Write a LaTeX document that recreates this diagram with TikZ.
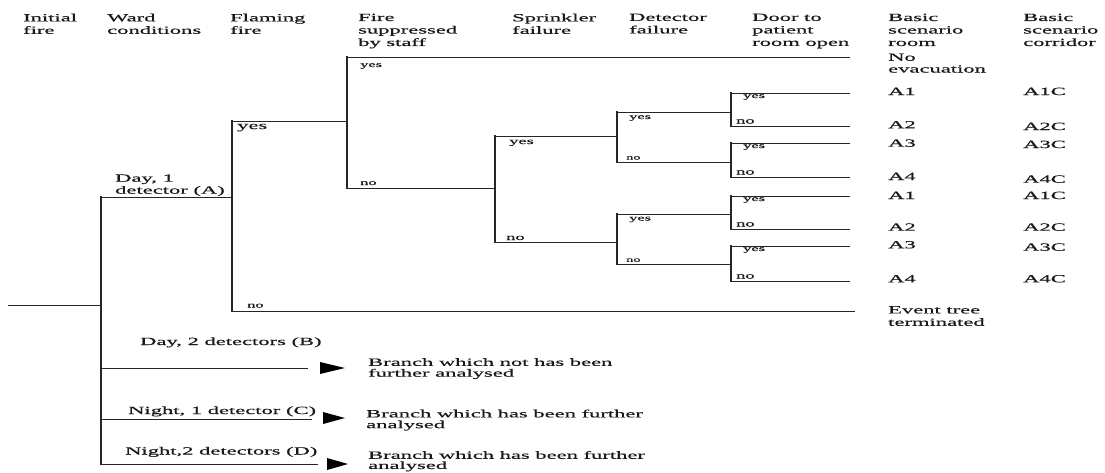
\documentclass[tikz,border=0pt]{standalone}
\usepackage{fontspec}
\setmainfont{Liberation Serif}[FakeStretch=2.05,FakeBold=0.6]
\begin{document}
\begin{tikzpicture}[x=1pt,y=-1pt,
  hline/.style={line width=0.9pt, draw=black!85},
  vline/.style={line width=1.8pt, draw=black!85, line cap=rect},
  txt/.style={inner sep=0pt, anchor=base west, text=black!90,
    font=\fontsize{11}{12.5}\selectfont},
  block/.style={inner sep=0pt, anchor=north west, align=left, text=black!90,
    font=\fontsize{11}{#1}\selectfont},
  block/.default=12.5,
  lbl/.style={inner sep=0pt, anchor=base west, text=black!90,
    font=\fontsize{#1}{#1}\selectfont},
  lbl/.default=8,
  tip/.style={fill=black}
]
\useasboundingbox (0,0) rectangle (1105,472);

% ---------- column headings ----------
\node[block] (hInit) at (23,13.5)   {Initial\\fire};
\node[block] (hWard) at (107,13.5)  {Ward\\conditions};
\node[block] (hFlam) at (230,13.5)  {Flaming\\fire};
\node[block] (hSupp) at (358,13.5)  {Fire\\suppressed\\by staff};
\node[block] (hSpr)  at (512,13.5)  {Sprinkler\\failure};
\node[block] (hDet)  at (629,13.5)  {Detector\\failure};
\node[block] (hDoor) at (752,13.5)  {Door to\\patient\\room open};
\node[block] (hRoom) at (888,13.5)  {Basic\\scenario\\room};
\node[block] (hCorr) at (1023,13.5) {Basic\\scenario\\corridor};

% ---------- initial fire and ward conditions ----------
\coordinate (root) at (8,305);
\coordinate (w)    at (101,305);
\coordinate (wA)   at (101,197);
\coordinate (wD)   at (101,464);
\coordinate (wB)   at (101,368);
\coordinate (wC)   at (101,419);
\draw[hline] (root) -- (w);
\draw[vline] (wA) -- (wD);

\node[block=12] (lA) at (115,174.2) {Day, 1\\detector (A)};

% ---------- flaming fire ----------
\coordinate (f)  at (232,197);
\coordinate (fy) at (232,121);
\coordinate (fn) at (232,311);
\coordinate (fnEnd) at (855,311);
\draw[hline] (wA) -- (f);
\draw[vline] (fy) -- (fn);
\draw[hline] (fn) -- (fnEnd);
\node[lbl=11] (lfy) at (237,129) {yes};
\node[lbl] (lfn) at (247,307.5) {no};

% ---------- fire suppressed by staff ----------
\coordinate (s)  at (347,121);
\coordinate (sy) at (347,57);
\coordinate (sn) at (347,188);
\coordinate (syEnd) at (850,57);
\draw[hline] (fy) -- (s);
\draw[vline] (sy) -- (sn);
\draw[hline] (sy) -- (syEnd);
\node[lbl] (lsy) at (360,67) {yes};
\node[lbl] (lsn) at (360,185) {no};

% ---------- sprinkler failure ----------
\coordinate (p)  at (495,188);
\coordinate (py) at (495,136);
\coordinate (pn) at (495,242);
\draw[hline] (sn) -- (p);
\draw[vline] (py) -- (pn);
\node[lbl=9] (lpy) at (509,144) {yes};
\node[lbl=9] (lpn) at (506,240) {no};

% ---------- detector failure ----------
\coordinate (d1)  at (617,136);
\coordinate (d1y) at (617,112);
\coordinate (d1n) at (617,162);
\coordinate (d2)  at (617,242);
\coordinate (d2y) at (617,214);
\coordinate (d2n) at (617,264);
\draw[hline] (py) -- (d1);
\draw[hline] (pn) -- (d2);
\draw[vline] (d1y) -- (d1n);
\draw[vline] (d2y) -- (d2n);
\node[lbl] (ld1y) at (629,119) {yes};
\node[lbl=7] (ld1n) at (626,159.5) {no};
\node[lbl] (ld2y) at (629,220.5) {yes};
\node[lbl=7] (ld2n) at (626,261.8) {no};

% ---------- door to patient room open ----------
\foreach \src/\m/\t/\b [count=\i] in {d1y/112/93/126, d1n/162/143/177,
                                      d2y/214/196/229, d2n/264/246/281} {
  \coordinate (r\i)  at (731,\m);
  \coordinate (r\i y) at (731,\t);
  \coordinate (r\i n) at (731,\b);
  \coordinate (r\i ye) at (850,\t);
  \coordinate (r\i ne) at (850,\b);
  \draw[hline] (\src) -- (r\i);
  \draw[vline] (r\i y) -- (r\i n);
  \draw[hline] (r\i y) -- (r\i ye);
  \draw[hline] (r\i n) -- (r\i ne);
  \node[lbl] (lr\i y) at (743,\t+5) {yes};
  \node[lbl=9] (lr\i n) at (736,\b-2.5) {no};
}

% ---------- basic scenarios ----------
\node[block=11.7] (oNo) at (888,53.4) {No\\evacuation};
\node[txt] (o1)  at (888,95)    {A1};  \node[txt] (c1) at (1023,95)    {A1C};
\node[txt] (o2)  at (888,128.3) {A2};  \node[txt] (c2) at (1023,130)   {A2C};
\node[txt] (o3)  at (888,146.7) {A3};  \node[txt] (c3) at (1023,148)   {A3C};
\node[txt] (o4)  at (888,180)   {A4};  \node[txt] (c4) at (1023,182.7) {A4C};
\node[txt] (o5)  at (888,199)   {A1};  \node[txt] (c5) at (1023,199)   {A1C};
\node[txt] (o6)  at (888,230.7) {A2};  \node[txt] (c6) at (1023,230.7) {A2C};
\node[txt] (o7)  at (888,248.3) {A3};  \node[txt] (c7) at (1023,250.7) {A3C};
\node[txt] (o8)  at (888,282.3) {A4};  \node[txt] (c8) at (1023,282.3) {A4C};
\node[block=12.4] (oEnd) at (888,306) {Event tree\\terminated};

% ---------- other ward conditions ----------
\coordinate (bEnd) at (308,368);
\coordinate (cEnd) at (312,419);
\coordinate (dEnd) at (318,464);
\draw[hline] (wB) -- (bEnd);
\draw[hline] (wC) -- (cEnd);
\draw[hline] (wD) -- (dEnd);

\node[txt] (lB) at (140,345)   {Day, 2 detectors (B)};
\node[txt] (lC) at (128,414)   {Night, 1 detector (C)};
\node[txt] (lD) at (125,454.5) {Night,2 detectors (D)};

% arrow heads marking the unexpanded branches
\coordinate (tB) at (320,368);
\coordinate (tC) at (323,418);
\coordinate (tD) at (327,464);
\fill[tip] (tB) -- ++(0,-6) -- ++(25,6) -- ++(-25,6) -- cycle;
\fill[tip] (tC) -- ++(0,-6) -- ++(22,6) -- ++(-22,6) -- cycle;
\fill[tip] (tD) -- ++(0,-6) -- ++(21,6) -- ++(-21,6) -- cycle;

\node[block=10.8] (nB) at (368,358)   {Branch which not has been\\further analysed};
\node[block=10.8] (nC) at (366,409.4) {Branch which has been further\\analysed};
\node[block=10.2] (nD) at (368,450.8) {Branch which has been further\\analysed};
\end{tikzpicture}
\end{document}
